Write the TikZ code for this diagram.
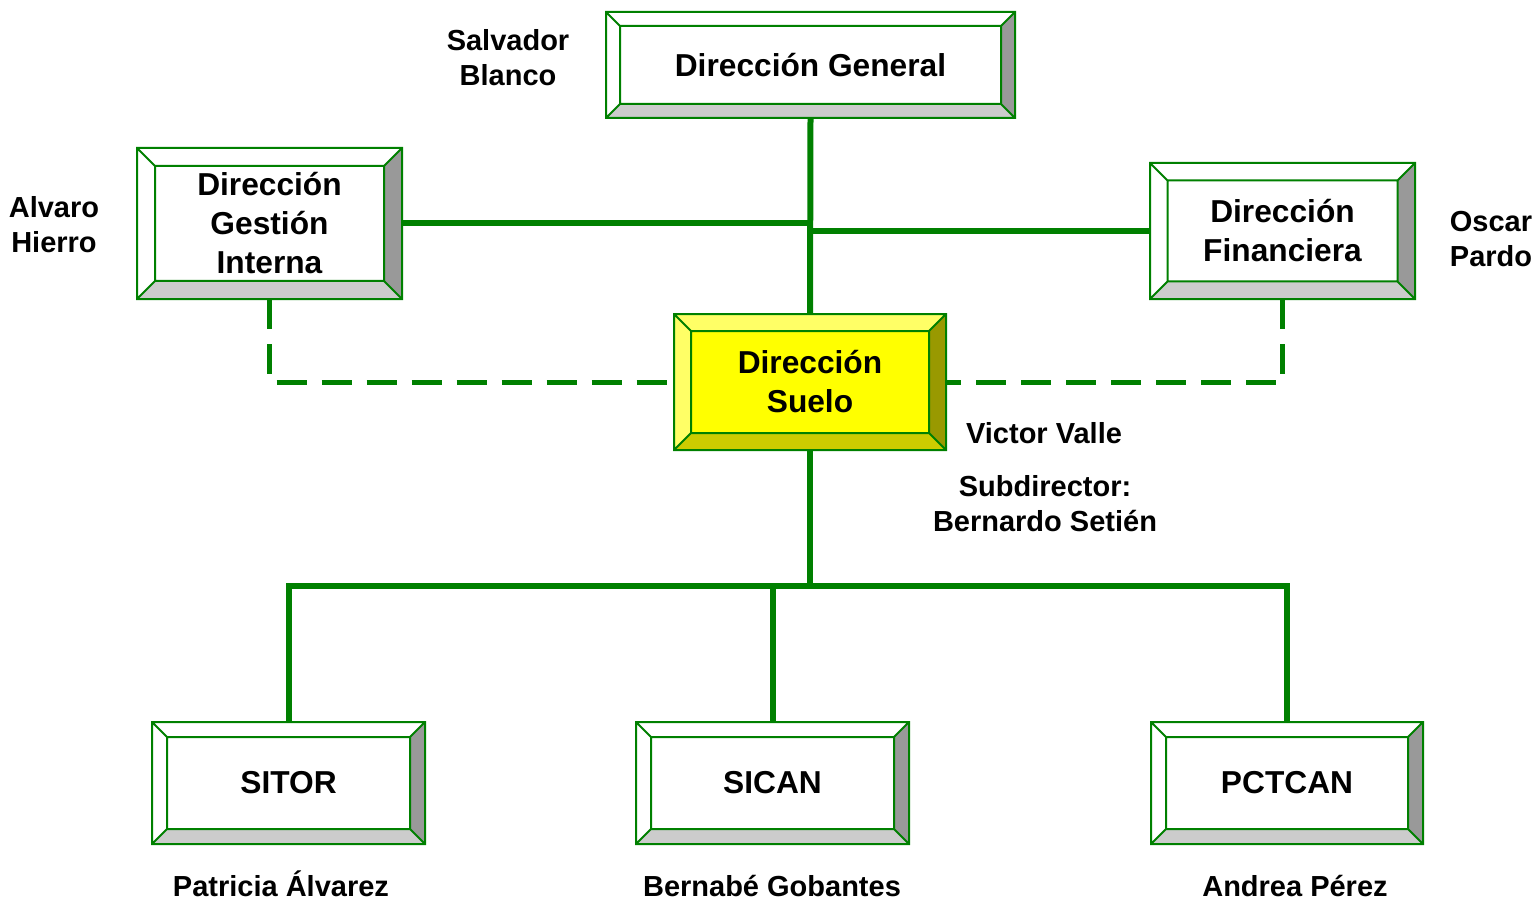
\documentclass[tikz,border=0pt]{standalone}
\usepackage{fontspec}
\setmainfont{Liberation Sans}
\usetikzlibrary{calc,backgrounds}
\definecolor{dgreen}{HTML}{008000}
\definecolor{bevdark}{HTML}{999999}
\definecolor{bevmid}{HTML}{CCCCCC}
\definecolor{ylight}{HTML}{FFFF66}
\definecolor{ydark}{HTML}{999900}
\definecolor{ymid}{HTML}{CCCC00}
\definecolor{yfill}{HTML}{FFFF00}
\newcommand\bevelbox[6]{%
  \begin{pgfonlayer}{background}
    \coordinate (A) at (#1.north west);
    \coordinate (B) at (#1.north east);
    \coordinate (C) at (#1.south east);
    \coordinate (D) at (#1.south west);
    \coordinate (IA) at ($(A)+(#2,#2)$);
    \coordinate (IB) at ($(B)+(-#2,#2)$);
    \coordinate (IC) at ($(C)+(-#2,-#2)$);
    \coordinate (ID) at ($(D)+(#2,-#2)$);
    \fill[#3] (A)--(B)--(IB)--(IA)--cycle;
    \fill[#3] (A)--(IA)--(ID)--(D)--cycle;
    \fill[#4] (B)--(C)--(IC)--(IB)--cycle;
    \fill[#5] (D)--(C)--(IC)--(ID)--cycle;
    \fill[#6] (IA)--(IB)--(IC)--(ID)--cycle;
    \draw[boxline] (A)--(B)--(C)--(D)--cycle (IA)--(IB)--(IC)--(ID)--cycle
      (A)--(IA) (B)--(IB) (C)--(IC) (D)--(ID);
  \end{pgfonlayer}}
\begin{document}
\begin{tikzpicture}[x=1pt,y=-1pt,
  boxtext/.style={inner sep=0pt,outer sep=0pt,align=center,
    font=\fontsize{31.7}{39}\selectfont\bfseries},
  lbl/.style={inner sep=0pt,align=center,font=\fontsize{29}{35}\selectfont\bfseries},
  boxline/.style={draw=dgreen,line width=2pt,line join=miter},
  conn/.style={draw=dgreen,line width=6pt,line join=miter},
  dconn/.style={draw=dgreen,line width=5pt,dash pattern=on 30pt off 15pt}]
\useasboundingbox (0,0) rectangle (1536,901);
\begin{pgfonlayer}{background}
\fill[white] (0,0) rectangle (1536,901);
\end{pgfonlayer}

\node[boxtext,minimum width=409,minimum height=106] (DG) at (810.5,65) {Dirección General};
\node[boxtext,minimum width=265,minimum height=151] (DGI) at (269.5,223.5) {Dirección\\Gestión\\Interna};
\node[boxtext,minimum width=265,minimum height=136] (DF) at (1282.5,231) {Dirección\\Financiera};
\node[boxtext,minimum width=272,minimum height=136] (DS) at (810,382) {Dirección\\Suelo};
\node[boxtext,minimum width=273,minimum height=122] (SITOR) at (288.5,783) {SITOR};
\node[boxtext,minimum width=273,minimum height=122] (SICAN) at (772.5,783) {SICAN};
\node[boxtext,minimum width=272,minimum height=122] (PCTCAN) at (1287,783) {PCTCAN};

\bevelbox{DG}{14}{white}{bevdark}{bevmid}{white}
\bevelbox{DGI}{18}{white}{bevdark}{bevmid}{white}
\bevelbox{DF}{17.5}{white}{bevdark}{bevmid}{white}
\bevelbox{DS}{17}{ylight}{ydark}{ymid}{yfill}
\bevelbox{SITOR}{15}{white}{bevdark}{bevmid}{white}
\bevelbox{SICAN}{15}{white}{bevdark}{bevmid}{white}
\bevelbox{PCTCAN}{15}{white}{bevdark}{bevmid}{white}

\node[lbl] (lSB) at (508,57.5) {Salvador\\Blanco};
\node[lbl] (lAH) at (54,224.5) {Alvaro\\Hierro};
\node[lbl] (lOP) at (1491,239.5) {Oscar\\Pardo};
\node[lbl] (lVV) at (1044,433) {Victor Valle};
\node[lbl] (lSub) at (1045,503.5) {Subdirector:\\Bernardo Setién};
\node[lbl] (lPA) at (281,884) {Patricia Álvarez};
\node[lbl] (lBG) at (772,886) {Bernabé Gobantes};
\node[lbl] (lAP) at (1295,886) {Andrea Pérez};

\coordinate (bus) at (810,586);
\draw[conn] (DG.south) -- (DS.north);
\draw[conn] (DGI.east) -- (DG.south |- DGI.east);
\draw[conn] (DF.west) -- (DG.south |- DF.west);
\draw[conn] (DS.south) -- (bus);
\draw[conn] (SITOR.north) |- (bus) -| (PCTCAN.north);
\draw[conn] (SICAN.north) -- (SICAN.north |- bus);
\draw[dconn] (DGI.south) |- (DS.west);
\draw[dconn] (DF.south) |- (DS.east);
\end{tikzpicture}
\end{document}
